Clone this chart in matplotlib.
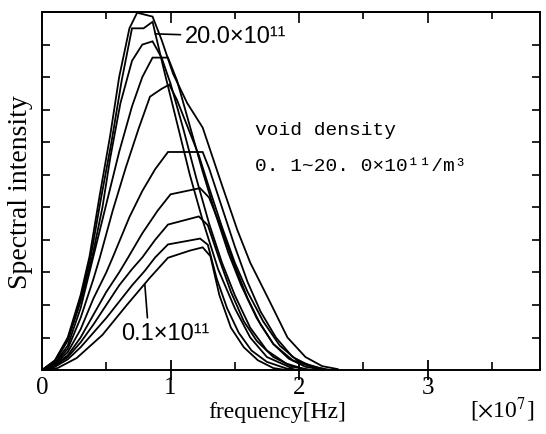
import matplotlib
matplotlib.use("Agg")
import matplotlib.pyplot as plt
from matplotlib.ticker import MultipleLocator

plt.rcParams["mathtext.fontset"] = "stix"

# Spectral intensity curves, void density 20.0 (curve 1) down to 0.1 x10^11 /m^3 (curve 10)
f1 = [0, 0.1, 0.2, 0.3, 0.37, 0.45, 0.53, 0.60, 0.68, 0.74, 0.86, 0.93, 1.02, 1.13, 1.25, 1.39, 1.52, 1.62, 1.76, 1.91, 2.05, 2.18, 2.30]
s1 = [0, 0.30, 1.00, 2.30, 3.50, 5.40, 7.20, 9.00, 10.50, 10.98, 10.86, 10.15, 9.10, 8.20, 7.45, 5.80, 4.30, 3.30, 2.20, 1.00, 0.40, 0.12, 0.03]

f2 = [0, 0.1, 0.2, 0.3, 0.38, 0.46, 0.54, 0.62, 0.70, 0.79, 0.86, 0.95, 1.05, 1.15, 1.25, 1.37, 1.50, 1.62, 1.75, 1.95]
s2 = [0, 0.28, 0.95, 2.20, 3.50, 5.30, 7.00, 8.90, 10.50, 10.50, 10.70, 9.20, 7.60, 6.00, 4.60, 3.10, 1.90, 1.00, 0.40, 0.05]

f3 = [0, 0.1, 0.2, 0.3, 0.39, 0.47, 0.53, 0.61, 0.70, 0.78, 0.86, 0.93, 1.00, 1.10, 1.20, 1.30, 1.40, 1.50, 1.62, 1.75, 1.90, 2.05]
s3 = [0, 0.26, 0.90, 2.10, 3.46, 5.00, 6.50, 8.20, 9.50, 10.00, 10.10, 9.60, 8.80, 7.40, 5.90, 4.50, 3.30, 2.30, 1.30, 0.60, 0.20, 0.02]

f4 = [0, 0.1, 0.2, 0.3, 0.4, 0.5, 0.6, 0.7, 0.78, 0.86, 0.98, 1.05, 1.15, 1.25, 1.35, 1.45, 1.55, 1.67, 1.80, 1.95, 2.15]
s4 = [0, 0.22, 0.75, 1.90, 3.50, 5.10, 6.70, 8.10, 9.00, 9.60, 9.60, 8.90, 7.50, 6.10, 4.80, 3.60, 2.60, 1.60, 0.80, 0.30, 0.03]

f5 = [0, 0.1, 0.2, 0.3, 0.4, 0.45, 0.55, 0.65, 0.75, 0.84, 0.93, 0.99, 1.05, 1.13, 1.22, 1.30, 1.40, 1.50, 1.60, 1.72, 1.85, 2.00, 2.20]
s5 = [0, 0.20, 0.65, 1.60, 2.80, 3.46, 4.90, 6.20, 7.40, 8.40, 8.64, 8.77, 8.30, 7.50, 6.60, 5.60, 4.40, 3.30, 2.40, 1.50, 0.75, 0.25, 0.02]

f6 = [0, 0.1, 0.2, 0.3, 0.4, 0.5, 0.55, 0.68, 0.78, 0.88, 0.98, 1.25, 1.30, 1.40, 1.50, 1.60, 1.70, 1.82, 1.95, 2.10, 2.25]
s6 = [0, 0.17, 0.55, 1.25, 2.20, 3.00, 3.46, 4.70, 5.50, 6.17, 6.70, 6.70, 6.20, 5.00, 3.80, 2.70, 1.80, 1.00, 0.40, 0.10, 0.0]

f7 = [0, 0.1, 0.2, 0.3, 0.4, 0.5, 0.6, 0.67, 0.78, 0.90, 1.00, 1.23, 1.30, 1.40, 1.50, 1.60, 1.70, 1.80, 1.92, 2.05, 2.20]
s7 = [0, 0.15, 0.45, 1.00, 1.70, 2.40, 3.00, 3.46, 4.20, 4.90, 5.40, 5.59, 5.30, 4.30, 3.20, 2.20, 1.40, 0.80, 0.35, 0.10, 0.0]

f8 = [0, 0.1, 0.2, 0.3, 0.4, 0.5, 0.6, 0.7, 0.78, 0.88, 0.98, 1.22, 1.29, 1.38, 1.47, 1.57, 1.67, 1.80, 1.95, 2.10]
s8 = [0, 0.13, 0.40, 0.85, 1.40, 2.00, 2.60, 3.10, 3.46, 4.00, 4.47, 4.72, 4.45, 3.40, 2.40, 1.50, 0.90, 0.40, 0.10, 0.0]

f9 = [0, 0.1, 0.2, 0.3, 0.4, 0.5, 0.6, 0.7, 0.8, 0.88, 0.98, 1.23, 1.29, 1.36, 1.44, 1.53, 1.63, 1.75, 1.90, 2.00]
s9 = [0, 0.10, 0.33, 0.70, 1.15, 1.60, 2.10, 2.60, 3.05, 3.46, 3.86, 4.04, 3.85, 2.80, 1.90, 1.15, 0.60, 0.25, 0.05, 0.0]

f10 = [0, 0.12, 0.27, 0.47, 0.66, 0.84, 0.98, 1.15, 1.25, 1.31, 1.38, 1.47, 1.57, 1.68, 1.80, 1.90]
s10 = [0, 0.06, 0.37, 1.08, 2.00, 2.84, 3.45, 3.67, 3.77, 3.50, 2.30, 1.30, 0.70, 0.30, 0.06, 0.0]

x_ticks = [0, 1, 2, 3]
x_tick_labels = ["0", "1", "2", "3"]

series = [(f1, s1), (f2, s2), (f3, s3), (f4, s4), (f5, s5),
          (f6, s6), (f7, s7), (f8, s8), (f9, s9), (f10, s10)]

serif = ["Liberation Serif", "DejaVu Serif"]
sans = ["Liberation Sans", "DejaVu Sans"]
mono = ["Liberation Mono", "DejaVu Sans Mono"]

fig = plt.figure(figsize=(5.46, 4.35), dpi=100)
ax = fig.add_axes([0.077, 0.147, 0.912, 0.823])

for f, s in series:
    ax.plot(f, s, color="black", lw=1.3, solid_joinstyle="miter")

ax.set_xlim(0, 3.875)
ax.set_ylim(0, 11)

for sp in ax.spines.values():
    sp.set_linewidth(1.4)

# x axis: labelled majors crossing the axis, short inner minors
ax.set_xticks(x_ticks)
ax.set_xticklabels(x_tick_labels, fontfamily=serif, fontsize=18)
ax.xaxis.set_minor_locator(MultipleLocator(0.5))
ax.tick_params(axis="x", which="major", direction="inout", length=14, width=1.3, pad=-3)
ax.tick_params(axis="x", which="minor", direction="in", length=6, width=1.2)
ax.xaxis.get_major_ticks()[0].tick1line.set_visible(False)

# y axis: unlabelled inner ticks on both sides
ax.yaxis.set_major_locator(MultipleLocator(1))
ax.tick_params(axis="y", which="major", direction="in", length=6, width=1.2,
               left=True, right=True, labelleft=False)

top = ax.secondary_xaxis("top")
top.set_xticks([1, 2, 3])
top.xaxis.set_minor_locator(MultipleLocator(0.5))
top.tick_params(which="major", direction="in", length=8, width=1.2, labeltop=False)
top.tick_params(which="minor", direction="in", length=5, width=1.2)
top.spines["top"].set_linewidth(1.4)

ax.set_ylabel("Spectral intensity", fontfamily=serif, fontsize=20)
ax.yaxis.set_label_coords(-0.018, 0.5)

fig.text(0.507, 0.052, "frequency[Hz]", fontfamily=serif, fontsize=17,
         ha="center", va="center")
fig.text(0.919, 0.058, r"[$\times$10$^{7}$]", fontfamily=serif, fontsize=17,
         ha="center", va="center")

ax.annotate("20.0×10¹¹", xy=(0.88, 10.33), xytext=(1.11, 10.25),
            fontfamily=sans, fontsize=17, ha="left", va="center",
            arrowprops=dict(arrowstyle="-", lw=1.2, shrinkA=1, shrinkB=0))
ax.annotate("0.1×10¹¹", xy=(0.80, 2.62), xytext=(0.96, 1.14),
            fontfamily=sans, fontsize=17, ha="center", va="center",
            arrowprops=dict(arrowstyle="-", lw=1.2, shrinkA=1, shrinkB=0,
                            relpos=(0.3, 1.0)))

ax.text(1.66, 7.38, "void density", fontfamily=mono, fontsize=14,
        ha="left", va="center")
ax.text(1.66, 6.30, "0. 1~20. 0×10¹¹/m³", fontfamily=mono, fontsize=14,
        ha="left", va="center")

fig.savefig("out.png", dpi=100)
